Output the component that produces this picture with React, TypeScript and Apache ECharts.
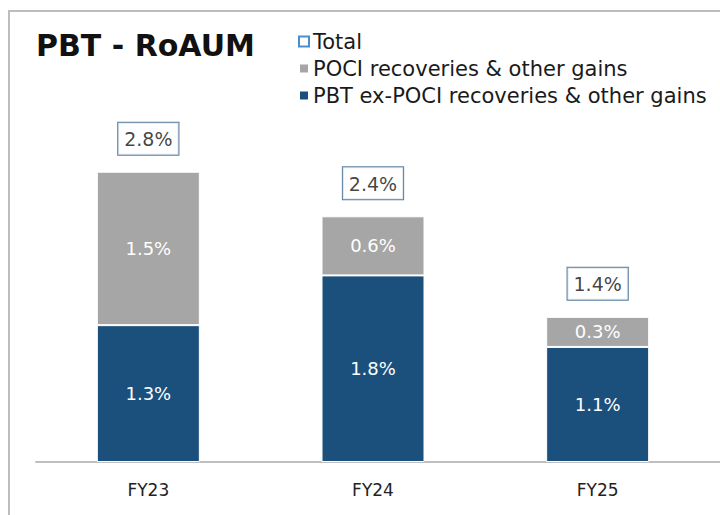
import React, { useEffect, useRef } from "react";
import * as echarts from "echarts";

const categories = ["FY23", "FY24", "FY25"];
const pbtExPoci = [1.32, 1.8, 1.11];
const pociGains = [1.48, 0.57, 0.29];
const totals = [2.8, 2.37, 1.4];

const BLUE = "#1b4f7c";
const GRAY = "#a6a6a6";
const FONT = "'DejaVu Sans', sans-serif";

export default function App() {
  const ref = useRef<HTMLDivElement>(null);
  useEffect(() => {
    const chart = echarts.init(ref.current!, null, { renderer: "svg" });
    const pct = (p: any) => Number(p.value).toFixed(1) + "%";
    chart.setOption({
      animation: false,
      backgroundColor: "#fff",
      textStyle: { fontFamily: FONT },
      title: {
        text: "PBT - RoAUM",
        left: 31,
        top: 25,
        textStyle: { fontSize: 30, fontWeight: "bold", color: "#111", fontFamily: FONT },
      },
      legend: {
        orient: "vertical",
        left: 293,
        top: 26,
        itemWidth: 10,
        itemHeight: 10,
        itemGap: 6,
        textStyle: { fontSize: 21, color: "#1a1a1a", fontFamily: FONT, padding: [0, 0, 0, -1] },
        data: [
          { name: "Total", icon: "rect", itemStyle: { color: "#fff", borderColor: "#1f72c0", borderWidth: 2 } },
          { name: "POCI recoveries & other gains", icon: "rect" },
          { name: "PBT ex-POCI recoveries & other gains", icon: "rect" },
        ],
      },
      grid: { left: 36, right: 10, top: 151, bottom: 53 },
      xAxis: {
        type: "category",
        data: categories,
        axisLine: { lineStyle: { color: "#bfbfbf", width: 2 } },
        axisTick: { show: false },
        axisLabel: { fontSize: 17, color: "#222", margin: 19, fontFamily: FONT },
      },
      yAxis: {
        type: "value",
        min: 0,
        max: 3,
        show: false,
        splitLine: { show: false },
      },
      series: [
        {
          name: "PBT ex-POCI recoveries & other gains",
          type: "bar",
          stack: "s",
          barWidth: 103,
          data: pbtExPoci,
          itemStyle: { color: BLUE, borderColor: "#fff", borderWidth: 1 },
          label: { show: true, position: "inside", color: "#fff", fontSize: 18, formatter: pct, fontFamily: FONT },
        },
        {
          name: "POCI recoveries & other gains",
          type: "bar",
          stack: "s",
          barWidth: 103,
          data: pociGains,
          itemStyle: { color: GRAY, borderColor: "#fff", borderWidth: 1 },
          label: { show: true, position: "inside", color: "#fff", fontSize: 18, formatter: pct, fontFamily: FONT },
        },
        {
          name: "Total",
          type: "scatter",
          data: totals,
          symbolSize: 0,
          itemStyle: { color: "#fff", borderColor: "#1f72c0" },
          label: {
            show: true,
            position: "top",
            distance: 17,
            formatter: pct,
            color: "#111",
            fontSize: 19,
            fontFamily: FONT,
            backgroundColor: "#fff",
            borderColor: "#2e5b8a",
            borderWidth: 1,
            padding: [7, 6, 6, 6],
          },
        },
      ],
      graphic: [
        {
          type: "rect",
          shape: { x: 9, y: 11, width: 800, height: 600 },
          style: { fill: "none", stroke: "#bdbdbd", lineWidth: 2 },
          silent: true,
        },
        {
          type: "line",
          shape: { x1: 700, y1: 462, x2: 720, y2: 462 },
          style: { stroke: "#bfbfbf", lineWidth: 2 },
          silent: true,
        },
      ],
    });
    return () => chart.dispose();
  }, []);
  return <div ref={ref} style={{ width: 720, height: 515, position: "absolute", left: 0, top: 0 }} />;
}
